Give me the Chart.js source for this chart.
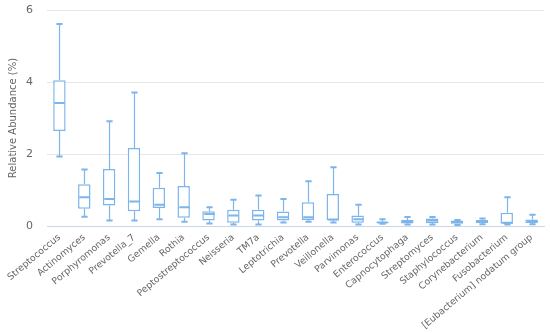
<!DOCTYPE html>
<html>
<head>
<meta charset="utf-8">
<script src="https://cdn.jsdelivr.net/npm/chart.js@4"></script>
<style>
html,body{margin:0;padding:0;background:#fff;}
#wrap{width:550px;height:333px;position:relative;}
</style>
</head>
<body>
<div id="wrap"><canvas id="c" width="550" height="333"></canvas></div>
<script>
const categories = ["Streptococcus","Actinomyces","Porphyromonas","Prevotella_7","Gemella","Rothia","Peptostreptococcus","Neisseria","TM7a","Leptotrichia","Prevotella","Veillonella","Parvimonas","Enterococcus","Capnocytophaga","Streptomyces","Staphylococcus","Corynebacterium","Fusobacterium","[Eubacterium] nodatum group"];
const minVals    = [1.93,0.26,0.15,0.15,0.19,0.12,0.07,0.04,0.04,0.10,0.12,0.10,0.04,0.06,0.04,0.04,0.03,0.05,0.04,0.05];
const q1Vals     = [2.64,0.48,0.57,0.41,0.50,0.23,0.15,0.09,0.15,0.15,0.17,0.15,0.09,0.08,0.07,0.08,0.06,0.08,0.06,0.08];
const medianVals = [3.42,0.80,0.75,0.68,0.59,0.52,0.33,0.29,0.29,0.24,0.24,0.18,0.19,0.10,0.13,0.15,0.11,0.13,0.09,0.13];
const q3Vals     = [4.05,1.16,1.58,2.17,1.06,1.11,0.41,0.45,0.45,0.40,0.66,0.89,0.29,0.12,0.17,0.21,0.15,0.17,0.37,0.18];
const maxVals    = [5.61,1.57,2.91,3.71,1.47,2.02,0.52,0.73,0.85,0.75,1.24,1.63,0.59,0.19,0.25,0.25,0.17,0.21,0.80,0.31];
const yTicks = [0,2,4,6];

const boxColor = '#7cb5ec';

const whiskerPlugin = {
  id: 'whiskers',
  afterDatasetsDraw(chart) {
    const ctx = chart.ctx;
    const xs = chart.scales.x, ys = chart.scales.y;
    const meta = chart.getDatasetMeta(0);
    ctx.save();
    ctx.strokeStyle = boxColor;
    categories.forEach((c, i) => {
      const el = meta.data[i];
      const x = Math.round(xs.getPixelForValue(i)) + 0.5;
      const half = el.width / 2;
      const cap = half * 0.5;
      const yMin = ys.getPixelForValue(minVals[i]);
      const yMax = ys.getPixelForValue(maxVals[i]);
      const yQ1 = ys.getPixelForValue(q1Vals[i]);
      const yQ3 = ys.getPixelForValue(q3Vals[i]);
      const yMed = ys.getPixelForValue(medianVals[i]);
      ctx.lineWidth = 1.2;
      ctx.beginPath();
      ctx.moveTo(x, yQ3); ctx.lineTo(x, yMax);
      ctx.moveTo(x, yQ1); ctx.lineTo(x, yMin);
      ctx.stroke();
      ctx.lineWidth = 2;
      ctx.beginPath();
      ctx.moveTo(x - cap, yMax); ctx.lineTo(x + cap, yMax);
      ctx.moveTo(x - cap, yMin); ctx.lineTo(x + cap, yMin);
      ctx.moveTo(x - half + 1, yMed); ctx.lineTo(x + half - 1, yMed);
      ctx.stroke();
    });
    ctx.restore();
  }
};

new Chart(document.getElementById('c'), {
  type: 'bar',
  data: {
    labels: categories,
    datasets: [{
      data: categories.map((c, i) => [q1Vals[i], q3Vals[i]]),
      backgroundColor: '#ffffff',
      borderColor: boxColor,
      borderWidth: 1.5,
      borderSkipped: false,
      barPercentage: 0.5,
      categoryPercentage: 1
    }]
  },
  options: {
    responsive: false,
    animation: false,
    devicePixelRatio: 1,
    layout: { padding: { top: 10, right: 6, left: 5, bottom: 0 } },
    plugins: { legend: { display: false }, tooltip: { enabled: false } },
    scales: {
      x: {
        grid: { display: false, drawTicks: false },
        border: { display: true, color: '#ccd6eb', width: 1 },
        ticks: {
          color: '#666666',
          font: { family: 'DejaVu Sans', size: 9.3 },
          minRotation: 40, maxRotation: 40,
          autoSkip: false,
          padding: 6
        },
        afterFit(scale) { scale.height = 107; scale.paddingTop = 0; }
      },
      y: {
        min: 0, max: 6,
        afterBuildTicks(scale) { scale.ticks = yTicks.map(v => ({ value: v })); },
        grid: { color: '#e6e6e6', drawTicks: false, lineWidth: 1 },
        border: { display: false },
        ticks: {
          color: '#666666',
          font: { family: 'DejaVu Sans', size: 11 },
          padding: 14
        },
        title: {
          display: true,
          text: 'Relative Abundance (%)',
          color: '#666666',
          font: { family: 'DejaVu Sans', size: 10 },
          padding: 2
        },
        afterFit(scale) { scale.width = 42; scale.paddingTop = 0; scale.paddingBottom = 0; }
      }
    }
  },
  plugins: [whiskerPlugin]
});
</script>
</body>
</html>
